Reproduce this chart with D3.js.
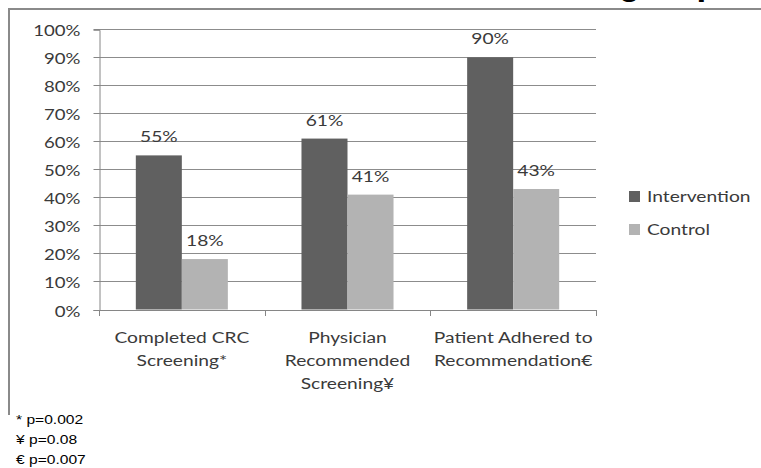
<!DOCTYPE html>
<html>
<head>
<meta charset="utf-8">
<script src="https://cdn.jsdelivr.net/npm/d3@7"></script>
<style>
  body { margin: 0; background: #fff; }
  svg { display: block; }
</style>
</head>
<body>
<div id="chart"></div>
<script>
// data
const categories = ["Completed CRC Screening*", "Physician Recommended Screening¥", "Patient Adhered to Recommendation€"];
const categoryLines = [["Completed CRC", "Screening*"], ["Physician", "Recommended", "Screening¥"], ["Patient Adhered to", "Recommendation€"]];
const seriesNames = ["Intervention", "Control"];
const intervention = [0.55, 0.61, 0.90];
const control = [0.18, 0.41, 0.43];
const yTicks = [0, 0.1, 0.2, 0.3, 0.4, 0.5, 0.6, 0.7, 0.8, 0.9, 1.0];
const footnotes = ["* p=0.002", "¥ p=0.08", "€ p=0.007"];
const titleText = "Outcomes in each group";

const colors = { Intervention: "#606060", Control: "#b3b3b3" };
const textColor = "#3a3a3a";
const stretch = 1.2; // the slide text is drawn a bit wide

const width = 761, height = 468;
const plot = { left: 99, right: 596, top: 29.3, bottom: 309.5 };

const svg = d3.select("#chart").append("svg")
    .attr("width", width)
    .attr("height", height);

// title sits mostly above the picture, only its descenders show
svg.append("text")
    .attr("x", 718)
    .attr("y", -5)
    .attr("text-anchor", "end")
    .style("font-family", "'Liberation Sans', Arial, sans-serif")
    .style("font-weight", "bold")
    .style("font-size", "35px")
    .style("fill", "#000")
    .text(titleText);

// chart frame (left and top edges)
svg.append("path")
    .attr("d", "M9,415 L9,9 L761,9")
    .attr("fill", "none")
    .attr("stroke", "#8a8a8a")
    .attr("stroke-width", 2);

const y = d3.scaleLinear()
    .domain([0, 1])
    .range([plot.bottom, plot.top]);

const x0 = d3.scaleBand()
    .domain(categories)
    .range([plot.left, plot.right])
    .padding(0);

const x1 = d3.scaleBand()
    .domain(seriesNames)
    .range([0, x0.bandwidth()])
    .paddingInner(0)
    .paddingOuter(0.8);

// gridlines
svg.append("g")
    .selectAll("line")
    .data(yTicks.filter(d => d > 0))
    .join("line")
    .attr("x1", plot.left)
    .attr("x2", plot.right)
    .attr("y1", d => Math.round(y(d)) + 0.5)
    .attr("y2", d => Math.round(y(d)) + 0.5)
    .attr("stroke", "#8c8c8c")
    .attr("stroke-width", 1);

// y axis
const yAxis = svg.append("g")
    .attr("transform", `translate(${plot.left + 0.5}, 0.5)`)
    .call(d3.axisLeft(y).tickValues(yTicks).tickSize(6).tickFormat(d3.format(".0%")));

yAxis.select(".domain").attr("stroke", "#868686");
yAxis.selectAll(".tick line").attr("stroke", "#868686");
yAxis.selectAll(".tick").attr("transform", d => `translate(0, ${Math.round(y(d))})`);
yAxis.selectAll(".tick text")
    .attr("x", null)
    .attr("dy", null)
    .attr("transform", `translate(-19, 6) scale(${stretch},1)`)
    .style("font-family", "Lato, sans-serif")
    .style("font-size", "15.5px")
    .style("fill", textColor);

// bars
const rows = categories.map((c, i) => ({ category: c, values: [
    { key: "Intervention", value: intervention[i] },
    { key: "Control", value: control[i] }
] }));

const groups = svg.append("g")
    .selectAll("g")
    .data(rows)
    .join("g")
    .attr("transform", d => `translate(${x0(d.category)}, 0)`);

groups.selectAll("rect")
    .data(d => d.values)
    .join("rect")
    .attr("x", d => x1(d.key))
    .attr("width", x1.bandwidth())
    .attr("y", d => y(d.value))
    .attr("height", d => y(0) - y(d.value))
    .attr("fill", d => colors[d.key]);

groups.selectAll("text.value")
    .data(d => d.values)
    .join("text")
    .attr("class", "value")
    .attr("text-anchor", "middle")
    .attr("transform", d => `translate(${x1(d.key) + x1.bandwidth() / 2}, ${y(d.value) - 13}) scale(${stretch},1)`)
    .style("font-family", "Lato, sans-serif")
    .style("font-size", "16px")
    .style("fill", textColor)
    .text(d => d3.format(".0%")(d.value));

// x axis line and category boundary ticks
svg.append("line")
    .attr("x1", plot.left)
    .attr("x2", plot.right)
    .attr("y1", Math.round(y(0)) + 0.5)
    .attr("y2", Math.round(y(0)) + 0.5)
    .attr("stroke", "#868686");

const bounds = categories.map(c => x0(c)).concat([plot.right]);
svg.append("g")
    .selectAll("line")
    .data(bounds)
    .join("line")
    .attr("x1", d => Math.round(d) + 0.5)
    .attr("x2", d => Math.round(d) + 0.5)
    .attr("y1", Math.round(y(0)))
    .attr("y2", Math.round(y(0)) + 6)
    .attr("stroke", "#868686");

// category labels
categoryLines.forEach((lines, i) => {
    const cx = x0(categories[i]) + x0.bandwidth() / 2;
    lines.forEach((line, j) => {
        svg.append("text")
            .attr("text-anchor", "middle")
            .attr("transform", `translate(${cx}, ${343 + j * 23}) scale(${stretch},1)`)
            .style("font-family", "Lato, sans-serif")
            .style("font-size", "16px")
            .style("fill", textColor)
            .text(line);
    });
});

// legend
const legend = svg.append("g")
    .selectAll("g")
    .data(seriesNames)
    .join("g")
    .attr("transform", (d, i) => `translate(629, ${191 + i * 33})`);

legend.append("rect")
    .attr("width", 11)
    .attr("height", 11)
    .attr("fill", d => colors[d]);

legend.append("text")
    .attr("transform", `translate(18, 11) scale(${stretch},1)`)
    .style("font-family", "Lato, sans-serif")
    .style("font-size", "16px")
    .style("fill", textColor)
    .text(d => d);

// footnotes
svg.append("g")
    .selectAll("text")
    .data(footnotes)
    .join("text")
    .attr("transform", (d, i) => `translate(16, ${424 + i * 20}) scale(${stretch},1)`)
    .style("font-family", "'Liberation Sans', Arial, sans-serif")
    .style("font-size", "13px")
    .style("fill", "#000")
    .text(d => d);
</script>
</body>
</html>
